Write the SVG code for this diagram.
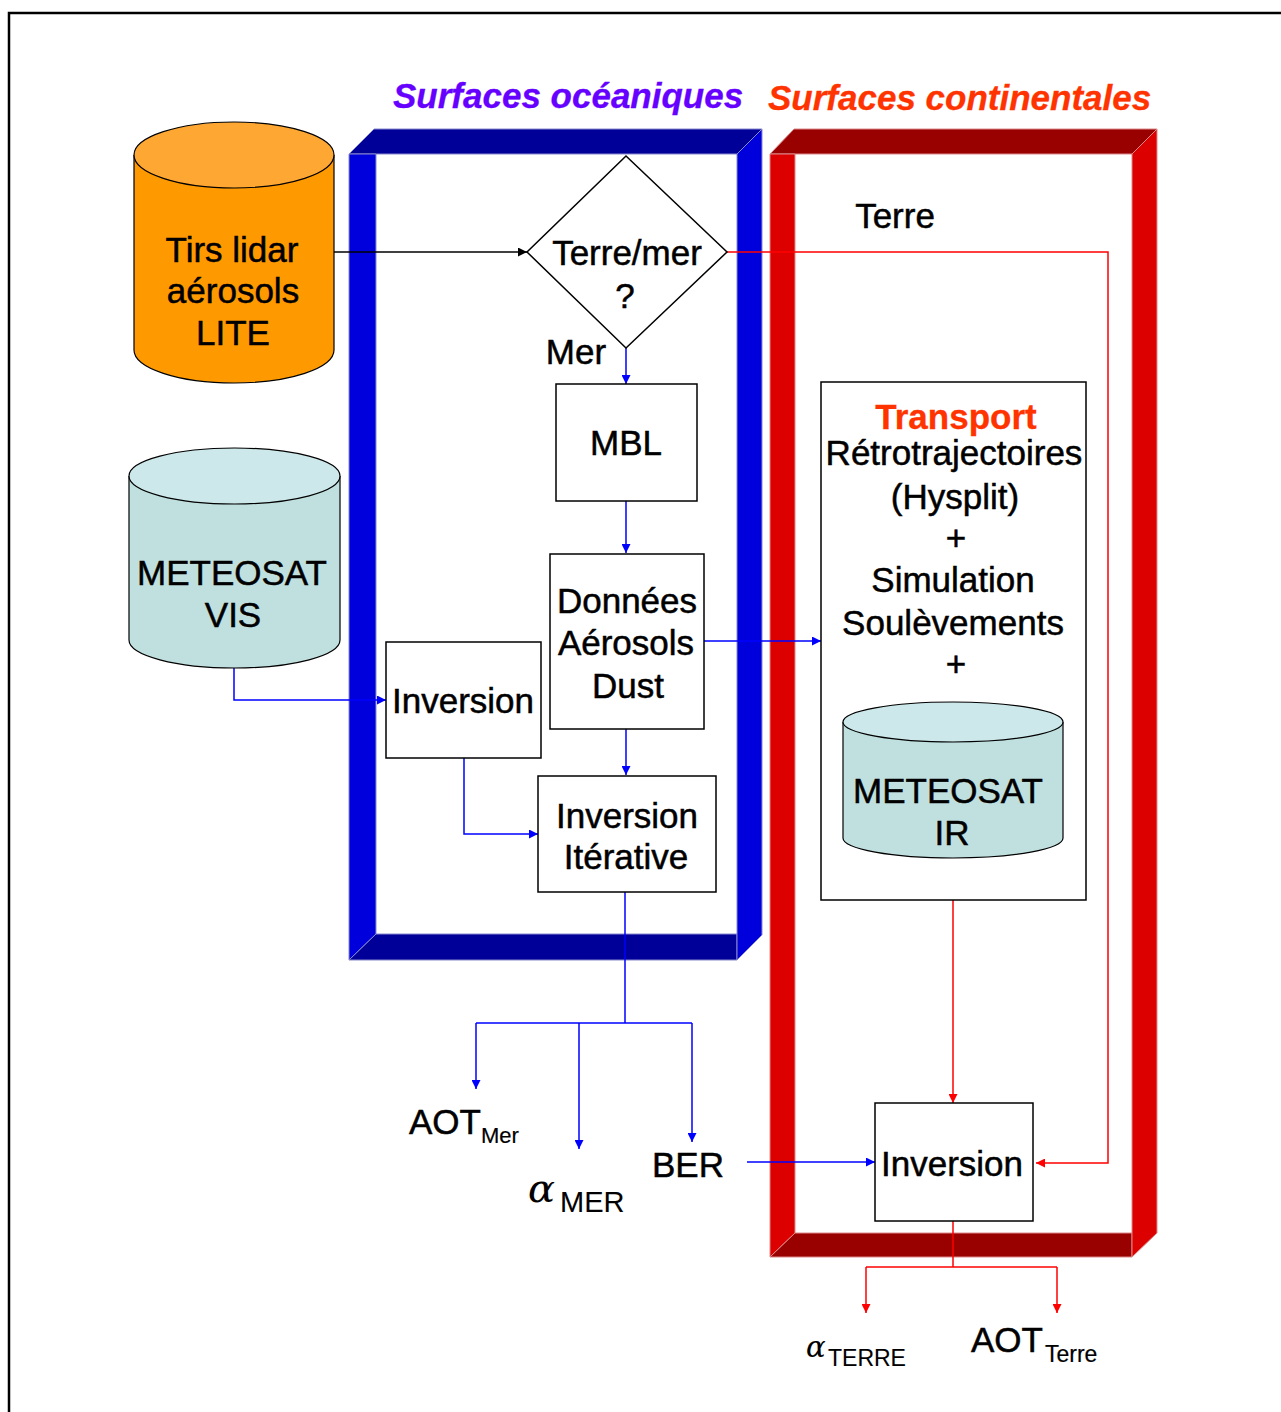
<svg xmlns="http://www.w3.org/2000/svg" width="1281" height="1412" viewBox="0 0 1281 1412">
<style>
text{font-family:"Liberation Sans",Arial,sans-serif;font-size:35px;fill:#000;stroke:#000;stroke-width:0.5;text-anchor:middle}
.st{text-anchor:start}
.alpha{font-family:"DejaVu Serif","Liberation Serif",serif;font-style:italic;stroke-width:0.1;text-anchor:start}
.title{font-weight:bold;font-style:italic;font-size:35px;text-anchor:start;stroke-width:0.3}
.box{fill:#fff;stroke:#000;stroke-width:1.5}
.b{stroke:#0000FF;stroke-width:1.5;fill:none}
.r{stroke:#FF0000;stroke-width:1.5;fill:none}
.k{stroke:#000;stroke-width:1.5;fill:none}
</style>
<defs>
<marker id="ab" viewBox="0 0 10 10" refX="10" refY="5" markerWidth="9" markerHeight="9" orient="auto" markerUnits="userSpaceOnUse"><path d="M0,0L10,5L0,10z" fill="#0000FF"/></marker>
<marker id="ar" viewBox="0 0 10 10" refX="10" refY="5" markerWidth="9" markerHeight="9" orient="auto" markerUnits="userSpaceOnUse"><path d="M0,0L10,5L0,10z" fill="#FF0000"/></marker>
<marker id="ak" viewBox="0 0 10 10" refX="10" refY="5" markerWidth="9" markerHeight="9" orient="auto" markerUnits="userSpaceOnUse"><path d="M0,0L10,5L0,10z" fill="#000"/></marker>
</defs>
<rect width="1281" height="1412" fill="#fff"/>
<path d="M9,1412V13H1281" fill="none" stroke="#000" stroke-width="2.5"/>

<g id="title-oceaniques"><text class="title" x="393" y="108" style="fill:#6600FF;stroke:#6600FF">Surfaces océaniques</text></g>
<g id="title-continentales"><text class="title" x="768" y="110" style="fill:#FF3300;stroke:#FF3300">Surfaces continentales</text></g>

<g id="frame-oceaniques" stroke="#8888CC" stroke-width="1">
<polygon points="349,154 374,129 762,129 737,154" fill="#000099"/>
<polygon points="349,154 376,154 376,934 349,960" fill="#0000DD"/>
<polygon points="349,960 376,934 737,934 737,960" fill="#000099"/>
<polygon points="737,154 762,129 762,935 737,960" fill="#0000DD"/>
</g>
<g id="frame-continentales" stroke="#DD8888" stroke-width="1">
<polygon points="770,154 794,129 1157,129 1132,154" fill="#990000"/>
<polygon points="770,154 795,154 795,1233 770,1257" fill="#DD0000"/>
<polygon points="770,1257 795,1233 1132,1233 1132,1257" fill="#990000"/>
<polygon points="1132,154 1157,129 1157,1233 1132,1257" fill="#DD0000"/>
</g>

<g id="connectors">
<path class="k" d="M334,252H527" marker-end="url(#ak)"/>
<path class="r" d="M727,252H1108V1163H1036" marker-end="url(#ar)"/>
<path class="b" d="M626,348V384" marker-end="url(#ab)"/>
<path class="b" d="M626,501V553" marker-end="url(#ab)"/>
<path class="b" d="M704,641H821" marker-end="url(#ab)"/>
<path class="b" d="M626,729V775" marker-end="url(#ab)"/>
<path class="b" d="M234,668V700H386" marker-end="url(#ab)"/>
<path class="b" d="M464,758V834H538" marker-end="url(#ab)"/>
<path class="b" d="M625,892V1023"/>
<path class="b" d="M476,1023H692"/>
<path class="b" d="M476,1023V1089" marker-end="url(#ab)"/>
<path class="b" d="M579,1023V1149" marker-end="url(#ab)"/>
<path class="b" d="M692,1023V1142" marker-end="url(#ab)"/>
<path class="b" d="M747,1162H875" marker-end="url(#ab)"/>
<path class="r" d="M953,900V1103" marker-end="url(#ar)"/>
<path class="r" d="M953,1221V1267"/>
<path class="r" d="M866,1267H1057"/>
<path class="r" d="M866,1267V1313" marker-end="url(#ar)"/>
<path class="r" d="M1057,1267V1313" marker-end="url(#ar)"/>
</g>

<g id="lite">
<path d="M134,155V350A100,33 0 0 0 334,350V155" fill="#FF9900" stroke="#000" stroke-width="1.2"/>
<ellipse cx="234" cy="155" rx="100" ry="33" fill="#FFA733" stroke="#000" stroke-width="1.2"/>
<text x="232" y="262">Tirs lidar</text>
<text x="233" y="303">aérosols</text>
<text x="233" y="345">LITE</text>
</g>

<g id="meteosat-vis">
<path d="M129,476V640A105.5,28 0 0 0 340,640V476" fill="#C0E0E0" stroke="#000" stroke-width="1.2"/>
<ellipse cx="234.5" cy="476" rx="105.5" ry="28" fill="#CCE8EA" stroke="#000" stroke-width="1.2"/>
<text x="232" y="585">METEOSAT</text>
<text x="233" y="627">VIS</text>
</g>

<g id="decision">
<polygon class="box" points="626,156 727,252 626,348 527,252"/>
<text x="627" y="265">Terre/mer</text>
<text x="625" y="308">?</text>
</g>
<g id="label-terre"><text x="895" y="228">Terre</text></g>
<g id="label-mer"><text x="576" y="364">Mer</text></g>

<g id="mbl"><rect class="box" x="556" y="384" width="141" height="117"/><text x="626" y="455">MBL</text></g>
<g id="donnees"><rect class="box" x="550" y="554" width="154" height="175"/>
<text x="627" y="613">Données</text><text x="626" y="655">Aérosols</text><text x="628" y="698">Dust</text></g>
<g id="inversion-left"><rect class="box" x="386" y="642" width="155" height="116"/><text x="463" y="713">Inversion</text></g>
<g id="inversion-iterative"><rect class="box" x="538" y="776" width="178" height="116"/>
<text x="627" y="828">Inversion</text><text x="626" y="869">Itérative</text></g>

<g id="transport"><rect class="box" x="821" y="382" width="265" height="518"/>
<text x="956" y="429" style="font-weight:bold;fill:#FF3300;stroke:#FF3300;stroke-width:0.3">Transport</text>
<text x="954" y="465">Rétrotrajectoires</text>
<text x="955" y="509">(Hysplit)</text>
<text x="956" y="550">+</text>
<text x="953" y="592">Simulation</text>
<text x="953" y="635">Soulèvements</text>
<text x="956" y="676">+</text>
</g>
<g id="meteosat-ir">
<path d="M843,722V838A110,20 0 0 0 1063,838V722" fill="#C0E0E0" stroke="#000" stroke-width="1.2"/>
<ellipse cx="953" cy="722" rx="110" ry="20" fill="#CCE8EA" stroke="#000" stroke-width="1.2"/>
<text x="948" y="803">METEOSAT</text>
<text x="952" y="845">IR</text>
</g>
<g id="inversion-right"><rect class="box" x="875" y="1103" width="158" height="118"/><text x="952" y="1176">Inversion</text></g>

<g id="out-aot-mer"><text class="st" x="409" y="1134">AOT</text><text class="st" x="481" y="1143" style="font-size:22px;stroke-width:0.2">Mer</text></g>
<g id="out-alpha-mer"><text class="alpha" x="528" y="1202" style="font-size:40px">α</text><text class="st" x="560" y="1212" style="font-size:29px;stroke-width:0.1">MER</text></g>
<g id="out-ber"><text x="688" y="1177">BER</text></g>
<g id="out-alpha-terre"><text class="alpha" x="806" y="1357" style="font-size:29px">α</text><text class="st" x="828" y="1366" style="font-size:23px;stroke-width:0.1">TERRE</text></g>
<g id="out-aot-terre"><text class="st" x="971" y="1352">AOT</text><text class="st" x="1045" y="1362" style="font-size:23px;stroke-width:0.2">Terre</text></g>
</svg>
